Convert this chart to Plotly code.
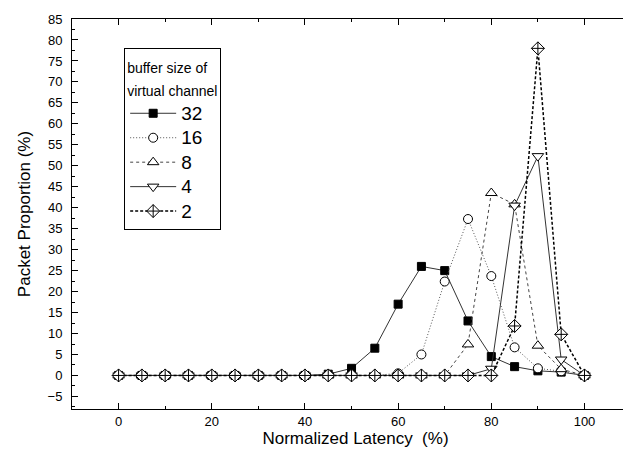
import plotly.graph_objects as go

latency = [0, 5, 10, 15, 20, 25, 30, 35, 40, 45, 50, 55, 60, 65, 70, 75, 80, 85, 90, 95, 100]
buf32 = [0, 0, 0, 0, 0, 0, 0, 0, 0, 0.3, 1.7, 6.5, 17, 26, 25, 13, 4.5, 2.1, 1.1, 0.8, 0]
buf16 = [0, 0, 0, 0, 0, 0, 0, 0, 0, 0, 0, 0, 0.5, 5, 22.4, 37.3, 23.7, 6.7, 1.7, 1.0, 0]
buf8 = [0, 0, 0, 0, 0, 0, 0, 0, 0, 0, 0, 0, 0, 0, 0, 7.4, 43.5, 40.8, 7.1, 1.5, 0]
buf4 = [0, 0, 0, 0, 0, 0, 0, 0, 0, 0, 0, 0, 0, 0, 0, 0, 1.6, 40.5, 52.3, 3.8, 0]
buf2 = [0, 0, 0, 0, 0, 0, 0, 0, 0, 0, 0, 0, 0, 0, 0, 0, 0, 11.8, 78, 9.8, 0]
names = ["32", "16", "8", "4", "2"]

styles = [
    ("solid", "#333333", 1, "square", "black", 8),
    ("1px,2px", "#555555", 1, "circle", "white", 9),
    ("3px,3px", "#444444", 1, "triangle-up", "white", 10),
    ("solid", "#333333", 1, "triangle-down", "white", 10),
    ("3px,2px", "black", 1.5, "diamond-cross", "white", 10),
]

FONT = "Liberation Sans, Arial, sans-serif"

fig = go.Figure()
for name, vals, (dash, lcol, lw, sym, fill, size) in zip(
        names, [buf32, buf16, buf8, buf4, buf2], styles):
    fig.add_trace(go.Scatter(
        x=latency, y=vals,
        name="<span style='font-size:19px'>" + name + "</span>",
        mode="lines+markers",
        line=dict(color=lcol, width=lw, dash=dash),
        marker=dict(symbol=sym, size=size, color=fill,
                    line=dict(color="black", width=1)),
    ))

axis_font = dict(family=FONT, size=13, color="black")
fig.update_layout(
    width=631, height=465,
    margin=dict(l=64, r=0, t=11, b=64),
    plot_bgcolor="white", paper_bgcolor="white",
    font=dict(family=FONT, color="black"),
    showlegend=True,
    legend=dict(
        x=0.092, y=0.925, xanchor="left", yanchor="top",
        bordercolor="black", borderwidth=1, bgcolor="white",
        font=dict(size=16.5, family=FONT),
        title=dict(text="<span style='font-size:14px'>buffer size of</span><br>"
                        "<span style='font-size:14px'>virtual channel</span>",
                   font=dict(size=18, family=FONT)),
        tracegroupgap=0, itemwidth=46,
    ),
    xaxis=dict(
        range=[-10, 111.7], tick0=0, dtick=20, ticks="inside", ticklen=6,
        tickcolor="black", showline=True, linecolor="black", linewidth=1,
        mirror="ticks", showgrid=False, zeroline=False, tickfont=axis_font,
        automargin=False,
        minor=dict(dtick=10, ticks="inside", ticklen=3, tickcolor="black"),
        title=dict(text="Normalized Latency  (%)",
                   font=dict(size=17, family=FONT), standoff=0),
    ),
    yaxis=dict(
        range=[-8, 85], tick0=0, dtick=5, ticks="inside", ticklen=6,
        tickcolor="black", showline=True, linecolor="black", linewidth=1,
        mirror=False, showgrid=False, zeroline=False, tickfont=axis_font,
        automargin=False, ticklabelstandoff=6,
        minor=dict(dtick=2.5, ticks="inside", ticklen=3, tickcolor="black"),
        title=dict(text="Packet Proportion (%)",
                   font=dict(size=17, family=FONT), standoff=12),
    ),
)

fig.write_html("out.html")
